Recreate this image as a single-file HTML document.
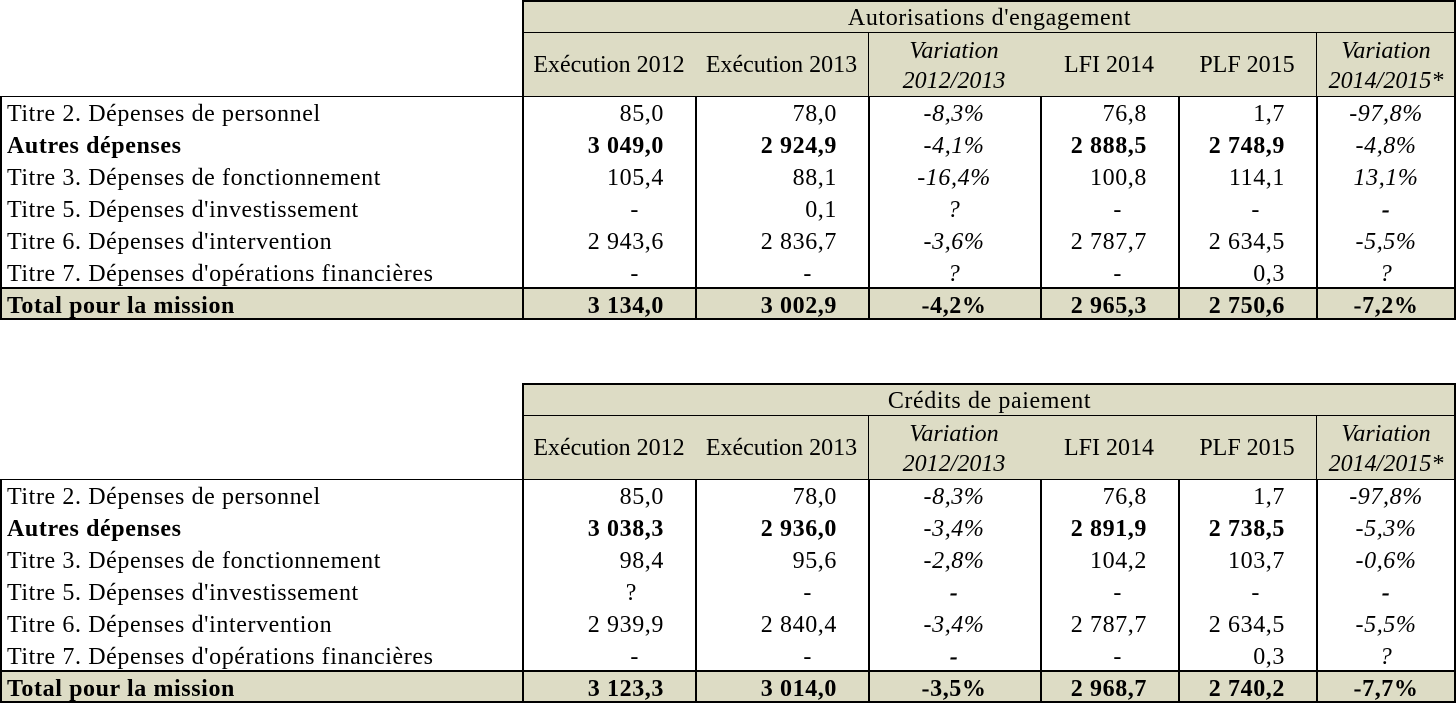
<!DOCTYPE html>
<html><head><meta charset="utf-8"><style>
body{margin:0;width:1456px;height:704px;background:#fff;position:relative;overflow:hidden;font-family:"Liberation Serif",serif;font-size:24px;letter-spacing:0.6px;color:#000}
.b{position:absolute;background:#000}
.bg{position:absolute;background:#dddcc5}
.t{position:absolute;white-space:nowrap;line-height:32px;height:32px}
</style></head><body>
<script>
const cols=[523,695,868,1040,1178,1316,1456];
const labels=["Titre 2. Dépenses de personnel","Autres dépenses","Titre 3. Dépenses de fonctionnement","Titre 5. Dépenses d'investissement","Titre 6. Dépenses d'intervention","Titre 7. Dépenses d'opérations financières","Total pour la mission"];
const boldRows=[1,6];
const aeValues=[
["85,0","78,0","-8,3%","76,8","1,7","-97,8%"],
["3 049,0","2 924,9","-4,1%","2 888,5","2 748,9","-4,8%"],
["105,4","88,1","-16,4%","100,8","114,1","13,1%"],
["-","0,1","?","-","-","-"],
["2 943,6","2 836,7","-3,6%","2 787,7","2 634,5","-5,5%"],
["-","-","?","-","0,3","?"],
["3 134,0","3 002,9","-4,2%","2 965,3","2 750,6","-7,2%"]];
const cpValues=[
["85,0","78,0","-8,3%","76,8","1,7","-97,8%"],
["3 038,3","2 936,0","-3,4%","2 891,9","2 738,5","-5,3%"],
["98,4","95,6","-2,8%","104,2","103,7","-0,6%"],
["?","-","-","-","-","-"],
["2 939,9","2 840,4","-3,4%","2 787,7","2 634,5","-5,5%"],
["-","-","-","-","0,3","?"],
["3 123,3","3 014,0","-3,5%","2 968,7","2 740,2","-7,7%"]];
const titles=["Autorisations d'engagement","Crédits de paiement"];
function el(cls,x,y,w,h,parent){const d=document.createElement('div');d.className=cls;d.style.left=x+'px';d.style.top=y+'px';if(w!=null)d.style.width=w+'px';if(h!=null)d.style.height=h+'px';(parent||document.body).appendChild(d);return d;}
function table(oy,title,vals,nm){
 const g=document.createElement('div');
 
 
 document.body.appendChild(g);
 el('bg',523,oy,933,97,g);
 el('bg',0,oy+288,1456,32,g);
 el('b',523,oy,933,2,g);el('b',523,oy+32,933,1,g);
 el('b',0,oy+96,1456,1,g);el('b',0,oy+287,1456,2,g);el('b',0,oy+318,1456,2,g);
 el('b',0,oy+96,2,224,g);el('b',1454,oy,2,320,g);el('b',522,oy,2,320,g);
 [868,1316].forEach(x=>el('b',x,oy+32,1,65,g));
 [695,868,1040,1178,1316].forEach(x=>el('b',x,oy+96,2,224,g));
 let t=el('t',523,oy+1,933,33,g);t.style.textAlign='center';t.style.lineHeight='34px';t.textContent=title;
 
 
 const heads=[["Exécution 2012",0],["Exécution 2013",0],["Variation<br>2012/2013",1],["LFI 2014",0],["PLF 2015",0],["Variation<br>2014/2015*",1]];
 heads.forEach((h,i)=>{const c=el('t',cols[i],oy+33,cols[i+1]-cols[i],64,g);c.style.textAlign='center';c.style.height='64px';c.style.letterSpacing='0px';
  if(h[1]){c.style.fontStyle='italic';c.style.lineHeight='30px';c.style.paddingTop='3px';c.style.boxSizing='border-box';c.innerHTML=h[0];}else{c.style.lineHeight='64px';c.textContent=h[0];}
  
  });
 labels.forEach((lb,r)=>{const y=oy+97+r*32+1;const bold=boldRows.includes(r);
  const l=el('t',7,y,null,null,g);l.textContent=lb;if(bold)l.style.fontWeight='bold';
  
  
  vals[r].forEach((v,i)=>{const c=el('t',cols[i],y,cols[i+1]-cols[i],null,g);c.textContent=v;
   const isVar=(i==2||i==5);
   if(isVar){c.style.textAlign='center';if(r!=6)c.style.fontStyle='italic';else c.style.fontWeight='bold';if(v=='-')c.style.fontWeight='bold';}
   else{if(bold)c.style.fontWeight='bold';c.style.textAlign='right';c.style.boxSizing='border-box';c.style.paddingRight=(v=='-'?'56px':v=='?'?'58px':'31px');}
   
   });
 });
}
table(0,titles[0],aeValues,'ae-table');
table(383,titles[1],cpValues,'cp-table');
</script>
</body></html>
